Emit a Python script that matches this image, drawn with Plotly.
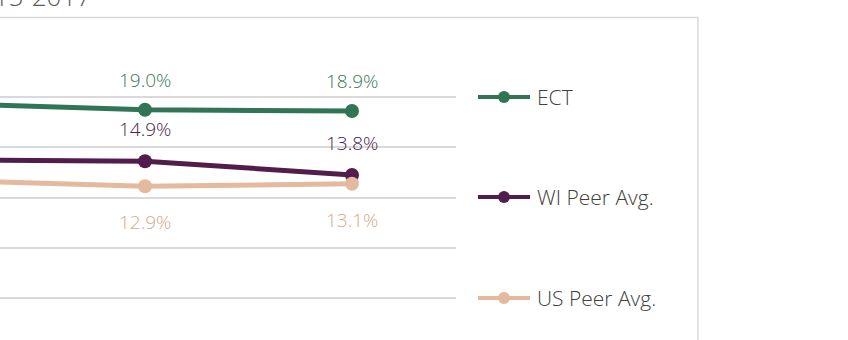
import plotly.graph_objects as go

# ---- data ----
years = ["2015", "2016", "2017"]
series_names = ["ECT", "WI Peer Avg.", "US Peer Avg."]
ect = [19.5, 19.0, 18.9]
wi_peer = [15.0, 14.9, 13.8]
us_peer = [13.4, 12.9, 13.1]
title_text = "2015-2017"

values = [ect, wi_peer, us_peer]
line_colors = ["#2f7556", "#521d4c", "#e4b99e"]
label_colors = ["#367a5a", "#4a2546", "#d6a98b"]
label_shift = [30, 32, -36]

W, H = 848, 340
ML, MR, MT, MB = 0, 392, 47, 0
PW, PH = W - ML - MR, H - MT - MB
px_per_cat = 207.0
x_lo = 1 - 145 / px_per_cat
x_hi = x_lo + PW / px_per_cat
px_per_pct = 12.55
y_hi = 24
y_lo = y_hi - PH / px_per_pct

fig = go.Figure()
annotations = []
for name, vals, lc, tc, sh in zip(series_names, values, line_colors, label_colors, label_shift):
    fig.add_trace(go.Scatter(
        x=list(range(len(years))), y=vals, mode="lines+markers", name=name,
        line=dict(color=lc, width=5),
        marker=dict(color=lc, size=14),
        showlegend=False,
    ))
    for i, v in enumerate(vals):
        annotations.append(dict(
            x=i, y=v, xref="x", yref="y", text=f"{v:.1f}%", showarrow=False,
            yshift=sh, font=dict(family="Open Sans", size=19, color=tc, weight=300),
        ))

# paper coords are relative to the plot area
def px(x):
    return (x - ML) / PW

def py(y):
    return (H - MB - y) / PH

shapes = []
# chart border
shapes.append(dict(type="rect", xref="paper", yref="paper", x0=px(-20), x1=px(698),
                   y0=py(360), y1=py(17.5), line=dict(color="#d9d9d9", width=1.5),
                   fillcolor="rgba(0,0,0,0)", layer="below"))
# manual legend
leg_y = [97, 197, 298]
for name, lc, yy in zip(series_names, line_colors, leg_y):
    shapes.append(dict(type="line", xref="paper", yref="paper", x0=px(478), x1=px(530),
                       y0=py(yy), y1=py(yy), line=dict(color=lc, width=4)))
    shapes.append(dict(type="circle", xref="paper", yref="paper", x0=px(498), x1=px(510),
                       y0=py(yy + 6), y1=py(yy - 6), fillcolor=lc, line=dict(color=lc, width=0)))
    annotations.append(dict(x=px(535), y=py(yy), xref="paper", yref="paper", text=name,
                            xanchor="left", yanchor="middle", showarrow=False,
                            font=dict(family="Open Sans", size=21, color="#404040", weight=300)))

annotations.append(dict(x=px(93), y=py(-4), xref="paper", yref="paper", text=title_text,
                        xanchor="right", yanchor="middle", showarrow=False,
                        font=dict(family="Open Sans", size=26, color="#595959", weight=300)))

fig.update_layout(
    width=W, height=H, margin=dict(l=ML, r=MR, t=MT, b=MB),
    paper_bgcolor="white", plot_bgcolor="white",
    xaxis=dict(range=[x_lo, x_hi], showgrid=False, zeroline=False, showticklabels=False,
               showline=False, tickvals=list(range(len(years))), ticktext=years),
    yaxis=dict(range=[y_lo, y_hi], dtick=4, tick0=0, showgrid=True, gridcolor="#d9d9d9",
               gridwidth=1.5, zeroline=False, showticklabels=False, showline=False),
    shapes=shapes, annotations=annotations, showlegend=False,
)

fig.write_html("out.html")
